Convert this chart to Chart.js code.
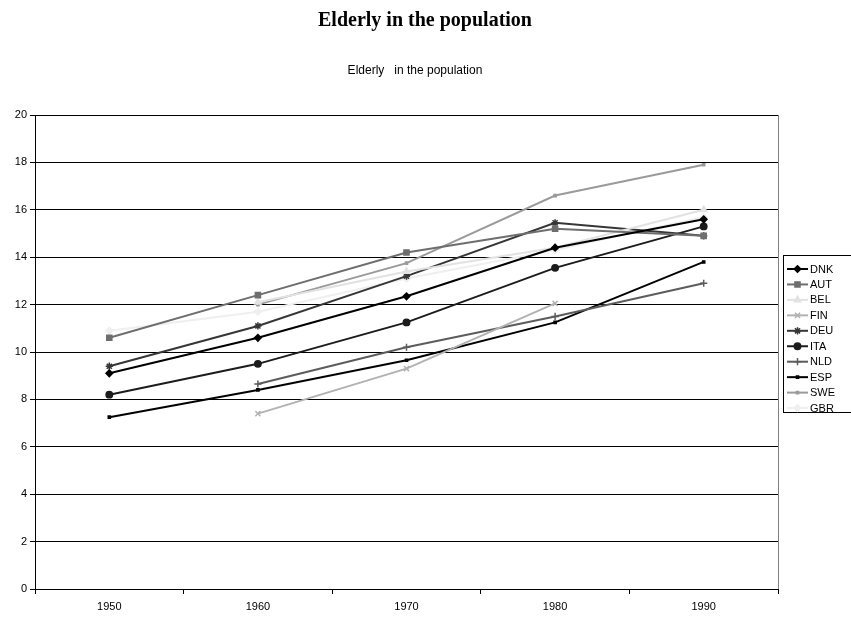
<!DOCTYPE html>
<html>
<head>
<meta charset="utf-8">
<script src="https://cdn.jsdelivr.net/npm/chart.js@4/dist/chart.umd.min.js"></script>
<style>
  html, body { margin: 0; padding: 0; background: #fff; }
  #wrap { width: 851px; height: 619px; position: relative; }
</style>
</head>
<body>
<div id="wrap"><canvas id="c" width="851" height="619"></canvas></div>
<script>
// Share of elderly in the population (%), by country and census decade
const years = ['1950', '1960', '1970', '1980', '1990'];
const DNK = [9.1, 10.6, 12.35, 14.4, 15.6];
const AUT = [10.6, 12.4, 14.2, 15.2, 14.9];
const BEL = [null, 12.1, 13.4, 14.4, 16.0];
const FIN = [null, 7.4, 9.3, 12.05, null];
const DEU = [9.4, 11.1, 13.2, 15.45, 14.9];
const ITA = [8.2, 9.5, 11.25, 13.55, 15.3];
const NLD = [null, 8.65, 10.2, 11.5, 12.9];
const ESP = [7.25, 8.4, 9.65, 11.25, 13.8];
const SWE = [null, 12.0, 13.75, 16.6, 17.9];
const GBR = [10.9, 11.7, 13.1, 14.3, 15.7];
const yTicks = [0, 2, 4, 6, 8, 10, 12, 14, 16, 18, 20];

const FONT = "'Liberation Sans Narrow', 'Liberation Sans', Arial, sans-serif";

function series(label, data, color, style, radius) {
  return {
    label, data,
    borderColor: color, backgroundColor: color,
    borderWidth: 2, tension: 0,
    pointStyle: style, pointRadius: radius, pointHoverRadius: radius,
    pointBorderColor: color, pointBackgroundColor: color, pointBorderWidth: 1.5,
    spanGaps: false
  };
}

const datasets = [
  series('DNK', DNK, '#000000', 'rectRot', 3.3),
  series('AUT', AUT, '#6e6e6e', 'rect', 3.6),
  series('BEL', BEL, '#e2e2e2', 'triangle', 3.6),
  series('FIN', FIN, '#b2b2b2', 'crossRot', 3.6),
  series('DEU', DEU, '#363636', 'star', 3.6),
  series('ITA', ITA, '#1c1c1c', 'circle', 3.2),
  series('NLD', NLD, '#5c5c5c', 'cross', 3.6),
  series('ESP', ESP, '#000000', 'rect', 1.5),
  series('SWE', SWE, '#9a9a9a', 'rect', 1.5),
  series('GBR', GBR, '#efefef', 'rectRot', 3.3)
];

// Titles, right frame edge and boxed legend
const decorations = {
  id: 'decorations',
  afterDraw(chart) {
    const ctx = chart.ctx;
    const a = chart.chartArea;
    ctx.save();
    // right edge of plot frame
    ctx.strokeStyle = '#808080';
    ctx.lineWidth = 1;
    ctx.beginPath();
    ctx.moveTo(a.right + 0.5, a.top);
    ctx.lineTo(a.right + 0.5, a.bottom);
    ctx.stroke();

    // headings
    ctx.fillStyle = '#000';
    ctx.textAlign = 'center';
    ctx.textBaseline = 'middle';
    ctx.font = "bold 20px 'Liberation Serif', 'Times New Roman', serif";
    ctx.fillText('Elderly in the population', 425, 21);
    ctx.font = '12px ' + FONT;
    ctx.fillText('Elderly   in the population', 415, 71);

    // legend box
    const bx = 783.5, by = 255.5, bw = 70, bh = 157;
    ctx.strokeStyle = '#000';
    ctx.lineWidth = 1;
    ctx.strokeRect(bx, by, bw, bh);
    ctx.textAlign = 'left';
    ctx.font = '11px ' + FONT;
    chart.data.datasets.forEach((ds, i) => {
      const y = 269 + i * 15.45;
      ctx.strokeStyle = ds.borderColor;
      ctx.lineWidth = 2;
      ctx.beginPath();
      ctx.moveTo(787, y);
      ctx.lineTo(808, y);
      ctx.stroke();
      ctx.fillStyle = ds.pointBackgroundColor;
      ctx.strokeStyle = ds.pointBorderColor;
      ctx.lineWidth = 1.5;
      Chart.helpers.drawPoint(ctx, { pointStyle: ds.pointStyle, radius: ds.pointRadius, rotation: 0, borderWidth: 1.5 }, 797.5, y);
      ctx.fillStyle = '#000';
      ctx.fillText(ds.label, 810, y + 0.5);
    });
    ctx.restore();
  }
};

new Chart(document.getElementById('c'), {
  type: 'line',
  data: { labels: years, datasets },
  options: {
    responsive: false,
    animation: false,
    layout: { padding: { top: 115, right: 73, bottom: 0, left: 0 } },
    plugins: { legend: { display: false }, title: { display: false }, tooltip: { enabled: false } },
    scales: {
      x: {
        type: 'category',
        offset: true,
        grid: { display: true, drawOnChartArea: false, drawTicks: true, offset: true, tickLength: 5, color: '#000', lineWidth: 1 },
        border: { display: true, color: '#000', width: 1 },
        ticks: { color: '#000', font: { family: FONT, size: 11 }, padding: 6, maxRotation: 0, autoSkip: false },
        afterFit(scale) { scale.height = 30; }
      },
      y: {
        min: 0, max: 20,
        afterBuildTicks(scale) { scale.ticks = yTicks.map(v => ({ value: v })); },
        grid: { color: '#000', lineWidth: 1, tickLength: 5, drawTicks: true },
        border: { display: true, color: '#000', width: 1 },
        ticks: { color: '#000', font: { family: FONT, size: 11 }, padding: 3 },
        afterFit(scale) { scale.width = 35; }
      }
    }
  },
  plugins: [decorations]
});
</script>
</body>
</html>
